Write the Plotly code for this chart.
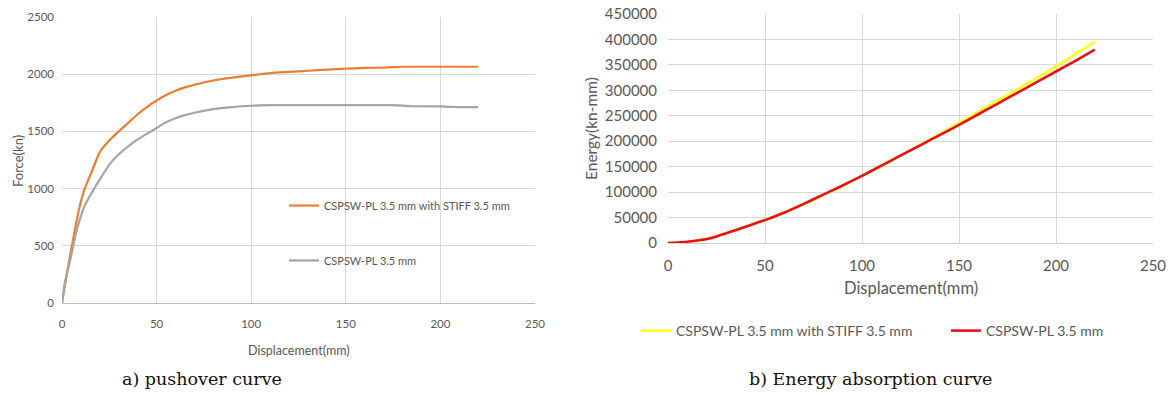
import plotly.graph_objects as go

# ---- data: pushover curve ----
disp_stiff = [0, 2, 5, 9, 12, 16, 20, 25, 30, 35, 40, 45, 50, 55, 60, 65, 70, 80, 90, 100,
              110, 120, 130, 140, 150, 160, 170, 180, 190, 200, 210, 220]
force_stiff = [0, 200, 480, 820, 1000, 1160, 1320, 1420, 1500, 1575, 1650, 1715, 1770, 1818,
               1855, 1885, 1908, 1945, 1970, 1990, 2010, 2020, 2030, 2040, 2048, 2055, 2058,
               2065, 2065, 2065, 2065, 2065]
disp_pl = [0, 1.5, 4, 8, 12, 17, 20, 25, 30, 35, 40, 45, 50, 55, 60, 65, 70, 80, 90, 100,
           110, 120, 140, 160, 175, 185, 200, 210, 220]
force_pl = [0, 180, 350, 650, 850, 1000, 1080, 1210, 1300, 1370, 1430, 1480, 1530, 1580,
            1615, 1642, 1663, 1695, 1713, 1724, 1730, 1730, 1730, 1730, 1730, 1720, 1718,
            1712, 1712]

# ---- data: energy absorption ----
disp_e = [0, 5, 10, 15, 20, 25, 30, 40, 50, 60, 70, 80, 90, 100, 110, 120, 130, 140, 150,
          160, 170, 180, 190, 200, 210, 220]
energy_stiff = [0, 1000, 2500, 5000, 8000, 13000, 19000, 32000, 45000, 60000, 76000, 94000,
                112000, 132000, 152000, 172000, 193000, 214000, 236000, 258000, 280000,
                302000, 324000, 347000, 371000, 395000]
energy_pl = [0, 1000, 2500, 5000, 8000, 13000, 19000, 32000, 45000, 60000, 77000, 95000,
             113000, 132000, 152000, 172000, 192000, 212000, 232000, 253000, 274000, 295000,
             316000, 337000, 358000, 380000]

names = ["CSPSW-PL 3.5 mm with STIFF 3.5 mm", "CSPSW-PL 3.5 mm"]

W, H = 1172, 394
def px(x):
    return x / W
def py(y):
    return 1 - y / H

TXT = "#595959"
GRID = "#D9D9D9"
FONT = "Lato, Open Sans, sans-serif"
SERIF = "DejaVu Serif, Liberation Serif, serif"

fig = go.Figure()
fig.add_trace(go.Scatter(x=disp_stiff, y=force_stiff, mode="lines", name=names[0],
                         line=dict(color="#ED7D31", width=2.2, shape="spline", smoothing=0.5),
                         xaxis="x", yaxis="y", legend="legend", legendgroup="a1"))
fig.add_trace(go.Scatter(x=disp_pl, y=force_pl, mode="lines", name=names[1],
                         line=dict(color="#A5A5A5", width=2.2, shape="spline", smoothing=0.5),
                         xaxis="x", yaxis="y", legend="legend", legendgroup="a2"))
fig.add_trace(go.Scatter(x=disp_e, y=energy_stiff, mode="lines", name=names[0],
                         line=dict(color="#FFFF1A", width=2.6, shape="spline", smoothing=0.5),
                         xaxis="x2", yaxis="y2", legend="legend2"))
fig.add_trace(go.Scatter(x=disp_e, y=energy_pl, mode="lines", name=names[1],
                         line=dict(color="#E8101A", width=2.6, shape="spline", smoothing=0.5),
                         xaxis="x2", yaxis="y2", legend="legend3"))

axis_common = dict(showgrid=True, gridcolor=GRID, gridwidth=1, zeroline=False,
                   ticks="", color=TXT, automargin=False)

leg_common = dict(xanchor="left", yanchor="middle", bgcolor="rgba(0,0,0,0)",
                  itemwidth=30)

def note(text, x, y, size, angle=0, family=FONT, color=TXT):
    return dict(text=text, x=px(x), y=py(y), xref="paper", yref="paper",
                xanchor="center", yanchor="middle", textangle=angle, showarrow=False,
                font=dict(size=size, color=color, family=family))

fig.update_layout(
    width=W, height=H,
    margin=dict(l=0, r=0, t=0, b=0, autoexpand=False),
    paper_bgcolor="white", plot_bgcolor="white",
    font=dict(family=FONT, color=TXT),
    xaxis=dict(domain=[px(62), px(535)], range=[0, 250], dtick=50, anchor="y",
               showline=True, linecolor="#BFBFBF", tickfont=dict(size=11.5, color=TXT),
               ticklabelstandoff=10, **axis_common),
    yaxis=dict(domain=[py(303), py(17)], range=[0, 2500], dtick=500, anchor="x",
               tickfont=dict(size=11.5, color=TXT), tickformat="d",
               ticklabelstandoff=7, **axis_common),
    xaxis2=dict(domain=[px(668), px(1153)], range=[0, 250], dtick=50, anchor="y2",
                showline=True, linecolor="#CFCFCF", tickfont=dict(size=15, color=TXT),
                ticklabelstandoff=9, **axis_common),
    yaxis2=dict(domain=[py(243), py(14)], range=[0, 450000], dtick=50000, anchor="x2",
                tickfont=dict(size=15, color=TXT), tickformat="d",
                ticklabelstandoff=10, **axis_common),
    legend=dict(x=px(284), y=py(233), font=dict(size=11, color=TXT),
                tracegroupgap=36, **leg_common),
    legend2=dict(x=px(636), y=py(331), font=dict(size=14, color=TXT), **leg_common),
    legend3=dict(x=px(946), y=py(331), font=dict(size=14, color=TXT), **leg_common),
    annotations=[
        note("Force(kn)", 18, 161, 13, angle=-90),
        note("Displacement(mm)", 299, 350, 12.5),
        note("Energy(kn-mm)", 591, 129, 15.5, angle=-90),
        note("Displacement(mm)", 911, 288, 16.5),
        note("a) pushover curve", 202, 379, 17.5, family=SERIF, color="#111111"),
        note("b) Energy absorption curve", 870, 379, 17.5, family=SERIF, color="#111111"),
    ],
)

fig.write_html("out.html")
